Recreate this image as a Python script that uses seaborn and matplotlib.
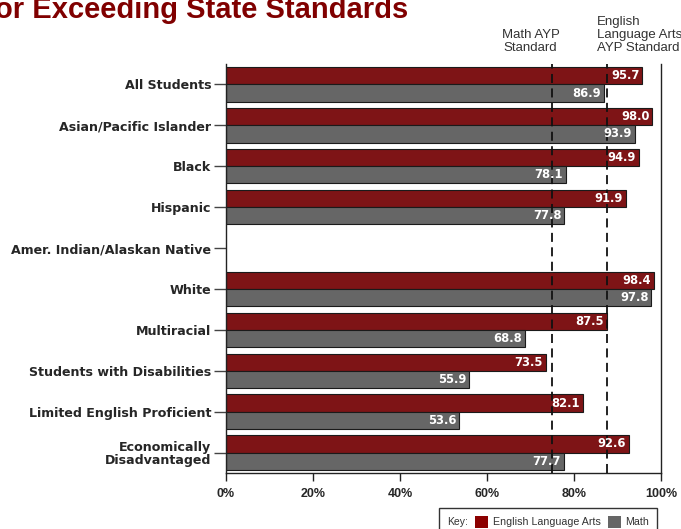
import matplotlib
matplotlib.use("Agg")
import matplotlib.pyplot as plt
import seaborn as sns
import pandas as pd
import numpy as np
from matplotlib.patches import Rectangle

categories = ["All Students", "Asian/Pacific Islander", "Black", "Hispanic",
              "Amer. Indian/Alaskan Native", "White", "Multiracial",
              "Students with Disabilities", "Limited English Proficient",
              "Economically\nDisadvantaged"]
ela = [95.7, 98.0, 94.9, 91.9, np.nan, 98.4, 87.5, 73.5, 82.1, 92.6]
math = [86.9, 93.9, 78.1, 77.8, np.nan, 97.8, 68.8, 55.9, 53.6, 77.7]
subjects = ["English Language Arts", "Math"]
math_standard = 75.0
ela_standard = 87.5
xticks = [0, 20, 40, 60, 80, 100]

RED = "#7e1416"
GRAY = "#666666"

df = pd.DataFrame({
    "group": categories * 2,
    "subject": [subjects[0]] * len(categories) + [subjects[1]] * len(categories),
    "value": ela + math,
})

sns.set_style("white")
plt.rcParams["font.family"] = ["Liberation Sans", "DejaVu Sans"]

fig = plt.figure(figsize=(6.81, 5.29), dpi=100)
ax = fig.add_axes([0.3319, 0.1059, 0.6388, 0.7731])

sns.barplot(data=df, y="group", x="value", hue="subject", order=categories,
            hue_order=subjects, palette=[RED, GRAY], orient="h", width=0.84,
            saturation=1, edgecolor="#1a1a1a", linewidth=0.8, ax=ax, legend=False)

ax.set_xlim(0, 100)
ax.set_xlabel("")
ax.set_ylabel("")
ax.set_xticks(xticks)
ax.set_xticklabels([f"{t}%" for t in xticks], fontsize=9, fontweight="bold")
ax.set_yticks(range(len(categories)))
ax.set_yticklabels(categories, fontsize=9.1, fontweight="bold", linespacing=0.95,
                   family=["DejaVu Sans"])
for lab in ax.get_yticklabels():
    lab.set_multialignment("right")
ax.tick_params(axis="y", left=True, length=9, width=1, direction="out", pad=1.5,
               color="#444444")
ax.tick_params(axis="x", bottom=True, length=6, width=1, direction="out", pad=5,
               color="#222222")
for s in ["left", "bottom", "right"]:
    ax.spines[s].set_visible(True)
    ax.spines[s].set_color("#222222")
    ax.spines[s].set_linewidth(1)
ax.spines["top"].set_visible(False)

ax.axvline(math_standard, color="#111111", lw=1.3, ls=(0, (5, 3)), zorder=5)
ax.axvline(ela_standard, color="#111111", lw=1.3, ls=(0, (5, 3)), zorder=5)

for cont in ax.containers:
    for bar in cont:
        w = bar.get_width()
        if np.isnan(w) or w == 0:
            continue
        ax.text(w - 0.7, bar.get_y() + bar.get_height() / 2, f"{w:.1f}",
                ha="right", va="center", color="white", fontsize=8.3,
                fontweight="bold", family=["DejaVu Sans"], zorder=6)

fig.text(-0.008, 0.966, "or Exceeding State Standards", ha="left", va="baseline",
         fontsize=21, fontweight="bold", color="#800000")
fig.text(0.779, 0.897, "Math AYP\nStandard", ha="center", va="bottom",
         fontsize=9.5, color="#333333", linespacing=1.15)
fig.text(0.876, 0.897, "English\nLanguage Arts\nAYP Standard", ha="left",
         va="bottom", fontsize=9.5, color="#333333", linespacing=1.15)

# legend key box
lx0, ly0, lw_, lh = 0.645, -0.01, 0.320, 0.050
fig.patches.append(Rectangle((lx0, ly0), lw_, lh, transform=fig.transFigure,
                             facecolor="white", edgecolor="#333333", lw=1))
fig.text(0.657, 0.013, "Key:", fontsize=7.5, color="#333333", va="center")
fig.patches.append(Rectangle((0.6975, 0.002), 0.019, 0.023, transform=fig.transFigure,
                             facecolor="#8b0000", edgecolor="none"))
fig.text(0.724, 0.013, subjects[0], fontsize=7.7, color="#333333", va="center")
fig.patches.append(Rectangle((0.893, 0.002), 0.019, 0.023, transform=fig.transFigure,
                             facecolor=GRAY, edgecolor="none"))
fig.text(0.918, 0.013, subjects[1], fontsize=7.7, color="#333333", va="center")

fig.savefig("out.png", dpi=100)
